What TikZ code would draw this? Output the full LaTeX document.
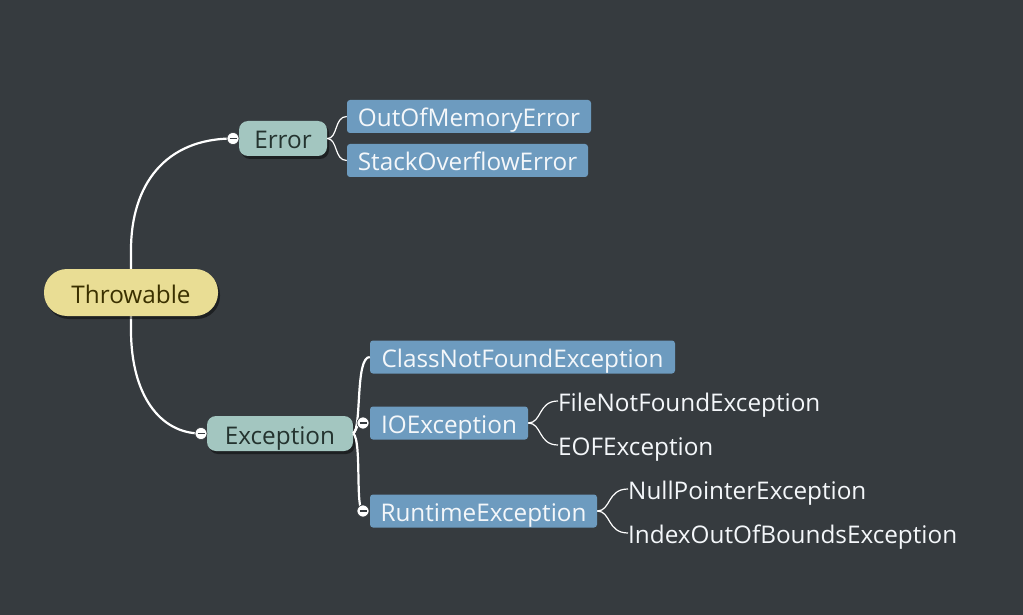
\documentclass[tikz,border=0pt]{standalone}
\usepackage{fontspec}
\setmainfont{Open Sans}
\usetikzlibrary{shadows}
\definecolor{bgc}{HTML}{363B3F}
\definecolor{yel}{HTML}{E9DD94}
\definecolor{yeltxt}{HTML}{3A3000}
\definecolor{teal}{HTML}{A3C6C0}
\definecolor{tealtxt}{HTML}{24332F}
\definecolor{blu}{HTML}{6D9BBF}
\definecolor{wtxt}{HTML}{F4F7FA}
\tikzset{
  txt/.style={font=\fontsize{24.3}{28}\selectfont,text height=21pt,text depth=0pt,inner sep=0pt},
  shad/.style={drop shadow={shadow xshift=2pt,shadow yshift=-3pt,opacity=0.45,fill=black}},
  rootbox/.style={txt,shad,fill=yel,text=yeltxt,rounded corners=23pt,minimum height=47pt},
  mainbox/.style={txt,shad,fill=teal,text=tealtxt,rounded corners=9pt,minimum height=35pt},
  subbox/.style={txt,fill=blu,text=wtxt,rounded corners=3pt,minimum height=33pt},
  leaf/.style={txt,text=wtxt,anchor=west},
  thick line/.style={draw=white,line width=2.2pt},
  thin line/.style={draw=white,line width=1.2pt},
  knob/.style={circle,fill=white,draw=bgc,line width=0.6pt,minimum size=12pt,inner sep=0pt,
    path picture={\draw[bgc,line width=1.1pt] ([xshift=-3.5pt]path picture bounding box.center) -- ([xshift=3.5pt]path picture bounding box.center);}}
}
\begin{document}
\begin{tikzpicture}[x=1pt,y=-1pt]
\fill[bgc] (0,0) rectangle (1023,615);
\useasboundingbox (0,0) rectangle (1023,615);
% connectors from root
\coordinate (errk) at (233,138.5);
\coordinate (exck) at (201,433.5);
\coordinate (ioek) at (363,423);
\coordinate (rtek) at (363,511);
\coordinate (thrt) at (131,292);
\path[thick line] (thrt) -- (131,250) .. controls (131,185) and (165,138.5) .. (errk);
\path[thick line] (thrt) -- (131,330) .. controls (131,395) and (160,433.5) .. (exck);
% nodes
\node[rootbox,minimum width=174pt] (thr) at (131,292.5) {Throwable};
\node[mainbox,minimum width=88pt] (err) at (283,138.5) {Error};
\node[mainbox,minimum width=146pt] (exc) at (280,433.5) {Exception};
\node[subbox,minimum width=244pt] (oom) at (469,116.5) {OutOfMemoryError};
\node[subbox,minimum width=241pt] (soe) at (467.5,160.5) {StackOverflowError};
\node[subbox,minimum width=305pt] (cnf) at (522.5,357) {ClassNotFoundException};
\node[subbox,minimum width=158pt] (ioe) at (449,423) {IOException};
\node[subbox,minimum width=227pt] (rte) at (483.5,511) {RuntimeException};
\node[leaf] (fnf) at (558,401) {FileNotFoundException};
\node[leaf] (eof) at (558,445) {EOFException};
\node[leaf] (npe) at (628,489) {NullPointerException};
\node[leaf] (iob) at (628,533) {IndexOutOfBoundsException};
% Error children
\path[thin line] (err.east) .. controls (338,139) and (334,116.5) .. (oom.west);
\path[thin line] (err.east) .. controls (338,139) and (334,160.5) .. (soe.west);
% Exception children
\path[thick line] (exc.east) .. controls (362,428) and (355,357) .. (cnf.west);
\path[thick line] (exc.east) .. controls (358,428) and (356,423) .. (ioek);
\path[thick line] (exc.east) .. controls (362,440) and (355,511) .. (rtek);
% IO children
\path[thin line] (ioe.east) .. controls (542,423) and (538,401) .. (fnf.west);
\path[thin line] (ioe.east) .. controls (542,423) and (538,445) .. (eof.west);
% Runtime children
\path[thin line] (rte.east) .. controls (611,511) and (607,489) .. (npe.west);
\path[thin line] (rte.east) .. controls (611,511) and (607,533) .. (iob.west);
% knobs
\node[knob] (k1) at (errk) {};
\node[knob] (k2) at (exck) {};
\node[knob] (k3) at (ioek) {};
\node[knob] (k4) at (rtek) {};
\end{tikzpicture}
\end{document}
